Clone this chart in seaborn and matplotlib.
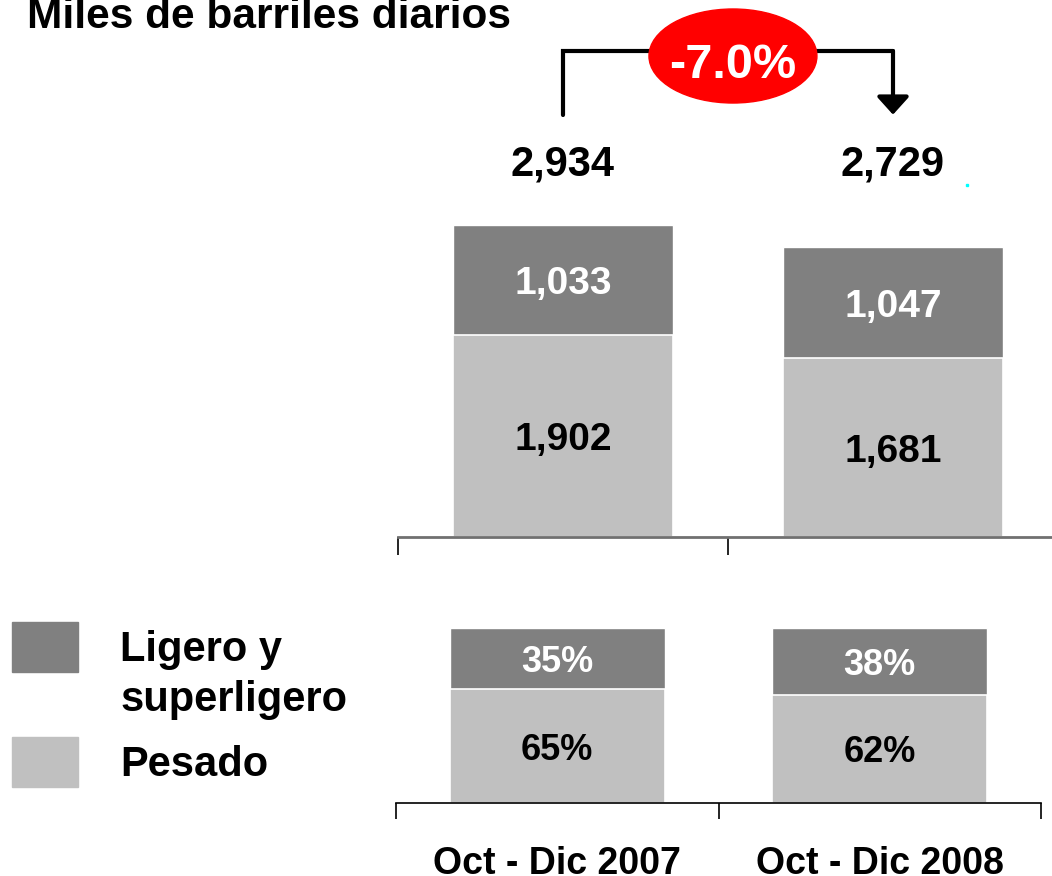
import matplotlib
matplotlib.use("Agg")
from matplotlib import pyplot as plt
from matplotlib.patches import Ellipse, Rectangle
import seaborn as sns

# Data
periods = ["Oct - Dic 2007", "Oct - Dic 2008"]
ligero = [1033, 1047]
pesado = [1902, 1681]
totals = ["2,934", "2,729"]
ligero_pct = [35, 38]
pesado_pct = [65, 62]
change_label = "-7.0%"

DARK = "#808080"
LIGHT = "#c0c0c0"
W, H = 1052, 876

sns.set_style("white")
plt.rcParams['font.family'] = ['Liberation Sans', 'DejaVu Sans']
plt.rcParams['font.weight'] = 'bold'
plt.rcParams['text.color'] = 'black'


def fx(px):
    return px / W


def fy(py):
    return 1 - py / H


fig = plt.figure(figsize=(W / 100, H / 100), dpi=100)

# Top chart: absolute volumes
ax = fig.add_axes([fx(398), fy(537), fx(660), 340 / H])
stack_top = [p + l for p, l in zip(pesado, ligero)]
sns.barplot(x=periods, y=stack_top, color=DARK, saturation=1, width=0.664, ax=ax)
sns.barplot(x=periods, y=pesado, color=LIGHT, saturation=1, width=0.664,
            edgecolor="white", linewidth=1.2, ax=ax)
ax.set_ylim(0, 3200)
ax.set_xlim(-0.5, 1.5)

for i in range(len(periods)):
    ax.text(i, pesado[i] + ligero[i] / 2, f"{ligero[i]:,}", ha="center",
            va="center_baseline", color="white", fontsize=28, fontweight="bold")
    ax.text(i, pesado[i] / 2, f"{pesado[i]:,}", ha="center", va="center_baseline",
            color="black", fontsize=28, fontweight="bold")
    ax.text(i, 3550, totals[i], ha="center", va="center_baseline", color="black",
            fontsize=30, fontweight="bold", clip_on=False)

# Bracket with change
ax.plot([0, 0, 1], [3970, 4574, 4574], color="black", lw=3, clip_on=False,
        solid_joinstyle="miter")
ax.annotate("", xy=(1, 3975), xytext=(1, 4574), annotation_clip=False,
            arrowprops=dict(arrowstyle="-|>,head_length=0.31,head_width=0.28",
                            mutation_scale=35, lw=3, color="black",
                            shrinkA=0, shrinkB=0))
ax.add_patch(Ellipse((0.515, 4527), 0.509, 885, color="#ff0000", clip_on=False, zorder=5))
ax.text(0.515, 4480, change_label, ha="center", va="center_baseline", color="white",
        fontsize=35, fontweight="bold", zorder=6, clip_on=False)

# Bottom chart: shares
ax2 = fig.add_axes([fx(396), fy(803), fx(645), 175 / H])
sns.barplot(x=periods, y=[100, 100], color=DARK, saturation=1, width=0.666, ax=ax2)
sns.barplot(x=periods, y=pesado_pct, color=LIGHT, saturation=1, width=0.666,
            edgecolor="white", linewidth=1.2, ax=ax2)
ax2.set_ylim(0, 100)
ax2.set_xlim(-0.5, 1.5)

for i in range(len(periods)):
    ax2.text(i, pesado_pct[i] + ligero_pct[i] / 2, f"{ligero_pct[i]}%", ha="center",
             va="center_baseline", color="white", fontsize=26, fontweight="bold")
    ax2.text(i, pesado_pct[i] / 2, f"{pesado_pct[i]}%", ha="center",
             va="center_baseline", color="black", fontsize=26, fontweight="bold")
    ax2.text(i, -40.8, periods[i], ha="center", va="baseline", color="black",
             fontsize=27, fontweight="bold", clip_on=False)

for a, col, tl, lw in [(ax, "#707070", 13, 2), (ax2, "black", 11.5, 1.2)]:
    for s in ["top", "right", "left"]:
        a.spines[s].set_visible(False)
    a.spines["bottom"].set_color(col)
    a.spines["bottom"].set_linewidth(lw)
    a.set_yticks([])
    a.set_xticks([])
    a.set_xticks([-0.5, 0.5, 1.5], minor=True)
    a.tick_params(axis="x", which="minor", direction="out", length=tl, width=1.2,
                  color="black", bottom=True)
    a.set_xlabel("")
    a.set_ylabel("")
    a.patch.set_alpha(0)

# Title
fig.text(fx(27), fy(28), "Miles de barriles diarios", ha="left", va="baseline",
         fontsize=30.5, fontweight="bold", color="black")

# Legend
fig.add_artist(Rectangle((fx(12), fy(672)), fx(66), 50 / H, color=DARK,
                         transform=fig.transFigure))
fig.add_artist(Rectangle((fx(12), fy(787)), fx(66), 50 / H, color=LIGHT,
                         transform=fig.transFigure))
for label, ypx in [("Ligero y", 650), ("superligero", 700), ("Pesado", 765)]:
    fig.text(fx(120), fy(ypx), label, ha="left", va="center", fontsize=30,
             fontweight="bold", color="black")

# small cyan mark near the second total
fig.add_artist(Rectangle((fx(966), fy(186)), fx(2), 2 / H, color="#00ffff",
                         transform=fig.transFigure))

plt.savefig("out.png", dpi=100)
plt.close()
